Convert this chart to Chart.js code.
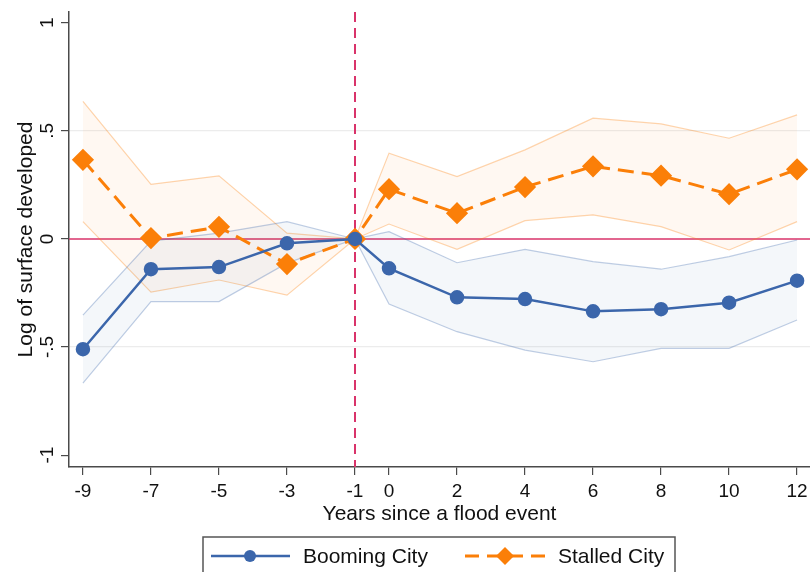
<!DOCTYPE html>
<html>
<head>
<meta charset="utf-8">
<script src="https://cdn.jsdelivr.net/npm/chart.js@4.4.1/dist/chart.umd.min.js"></script>
<style>
  html, body { margin: 0; padding: 0; background: #fff; }
  #wrap { width: 810px; height: 572px; }
</style>
</head>
<body>
<div id="wrap"><canvas id="chart" width="810" height="572"></canvas></div>
<script>
// years relative to the flood
const years = [-9, -7, -5, -3, -1, 0, 2, 4, 6, 8, 10, 12];
const xTicks = [-9, -7, -5, -3, -1, 0, 2, 4, 6, 8, 10, 12];
const yTicks = [-1, -0.5, 0, 0.5, 1];
const yTickLabels = ['-1', '-.5', '0', '.5', '1'];

const booming = [-0.51, -0.14, -0.13, -0.02, 0, -0.136, -0.27, -0.278, -0.335, -0.325, -0.295, -0.193];
const boomingHi = [-0.352, -0.01, 0.027, 0.08, 0, 0.034, -0.11, -0.048, -0.105, -0.14, -0.082, -0.005];
const boomingLo = [-0.667, -0.29, -0.29, -0.112, 0, -0.301, -0.429, -0.514, -0.568, -0.506, -0.506, -0.375];

const stalled = [0.366, 0.004, 0.056, -0.116, 0, 0.23, 0.119, 0.24, 0.336, 0.293, 0.207, 0.322];
const stalledHi = [0.636, 0.253, 0.292, 0.027, 0, 0.397, 0.289, 0.412, 0.559, 0.532, 0.466, 0.574];
const stalledLo = [0.08, -0.246, -0.19, -0.26, 0, 0.069, -0.048, 0.085, 0.111, 0.057, -0.051, 0.08];

const BLUE = '#3b66ab';
const ORANGE = '#fb7f08';
const RED = '#d9336a';
const AXIS = '#4a4a4a';
const FONT = "'Liberation Sans', Arial, sans-serif";

const pts = arr => arr.map((v, i) => ({ x: years[i], y: v }));

// reference lines at y=0 and x=-1
const refLines = {
  id: 'refLines',
  beforeDatasetsDraw(chart) {
    const { ctx, chartArea, scales } = chart;
    ctx.save();
    ctx.strokeStyle = RED;
    ctx.lineWidth = 1.6;
    const y0 = scales.y.getPixelForValue(0);
    ctx.beginPath();
    ctx.moveTo(chartArea.left, y0);
    ctx.lineTo(chartArea.right, y0);
    ctx.stroke();
    const x1 = scales.x.getPixelForValue(-1);
    ctx.lineWidth = 2;
    ctx.setLineDash([10, 6]);
    ctx.beginPath();
    ctx.moveTo(x1, chartArea.top);
    ctx.lineTo(x1, chartArea.bottom);
    ctx.stroke();
    ctx.restore();
  }
};

// rotated y tick labels and boxed legend, Stata style
const extras = {
  id: 'extras',
  afterDraw(chart) {
    const { ctx, scales } = chart;
    ctx.save();
    ctx.fillStyle = '#111';
    ctx.font = '19px ' + FONT;
    ctx.textAlign = 'center';
    ctx.textBaseline = 'middle';
    yTicks.forEach((v, i) => {
      const y = scales.y.getPixelForValue(v);
      ctx.save();
      ctx.translate(48, y);
      ctx.rotate(-Math.PI / 2);
      ctx.fillText(yTickLabels[i], 0, 0);
      ctx.restore();
    });

    // legend
    ctx.strokeStyle = '#555';
    ctx.lineWidth = 1.5;
    ctx.strokeRect(203, 537, 472, 50);
    const ly = 556;
    const b = chart.data.datasets[0];
    const s = chart.data.datasets[1];
    ctx.lineWidth = 2.5;
    ctx.strokeStyle = b.borderColor;
    ctx.beginPath(); ctx.moveTo(211, ly); ctx.lineTo(290, ly); ctx.stroke();
    ctx.fillStyle = b.borderColor;
    ctx.beginPath(); ctx.arc(250, ly, 6, 0, Math.PI * 2); ctx.fill();
    ctx.strokeStyle = s.borderColor;
    ctx.lineWidth = 3;
    ctx.setLineDash([14, 8]);
    ctx.beginPath(); ctx.moveTo(465, ly); ctx.lineTo(546, ly); ctx.stroke();
    ctx.setLineDash([]);
    ctx.fillStyle = s.borderColor;
    ctx.beginPath();
    ctx.moveTo(505, ly - 9); ctx.lineTo(514, ly); ctx.lineTo(505, ly + 9); ctx.lineTo(496, ly);
    ctx.closePath(); ctx.fill();
    ctx.fillStyle = '#111';
    ctx.font = '21px ' + FONT;
    ctx.textAlign = 'left';
    ctx.fillText(b.label, 303, ly + 1);
    ctx.fillText(s.label, 558, ly + 1);
    ctx.restore();
  }
};

new Chart(document.getElementById('chart'), {
  type: 'line',
  data: {
    datasets: [
      {
        label: 'Booming City', data: pts(booming), borderColor: BLUE, backgroundColor: BLUE,
        borderWidth: 2.5, pointRadius: 6, pointHoverRadius: 6, pointStyle: 'circle', fill: false, order: 0
      },
      {
        label: 'Stalled City', data: pts(stalled), borderColor: ORANGE, backgroundColor: ORANGE,
        borderWidth: 3, borderDash: [16, 8], pointRadius: 9, pointHoverRadius: 9, pointStyle: 'rectRot',
        fill: false, order: 1
      },
      {
        label: 'bhi', data: pts(boomingHi), borderColor: 'rgba(59,102,171,0.32)', borderWidth: 1.2,
        pointRadius: 0, fill: false, order: 10
      },
      {
        label: 'blo', data: pts(boomingLo), borderColor: 'rgba(59,102,171,0.32)', borderWidth: 1.2,
        pointRadius: 0, fill: '-1', backgroundColor: 'rgba(59,102,171,0.055)', order: 11
      },
      {
        label: 'shi', data: pts(stalledHi), borderColor: 'rgba(251,127,8,0.33)', borderWidth: 1.2,
        pointRadius: 0, fill: false, order: 12
      },
      {
        label: 'slo', data: pts(stalledLo), borderColor: 'rgba(251,127,8,0.33)', borderWidth: 1.2,
        pointRadius: 0, fill: '-1', backgroundColor: 'rgba(251,127,8,0.05)', order: 13
      }
    ]
  },
  options: {
    responsive: false,
    animation: false,
    layout: { autoPadding: false, padding: { top: 12, bottom: 40, left: 0, right: 0 } },
    plugins: { legend: { display: false }, tooltip: { enabled: false } },
    elements: { line: { tension: 0 } },
    scales: {
      x: {
        type: 'linear', min: -9.41, max: 12.38,
        afterBuildTicks: s => { s.ticks = xTicks.map(v => ({ value: v })); },
        afterFit: s => { s.height = 65; s.paddingLeft = 0; s.paddingRight = 0; },
        ticks: { color: '#111', font: { family: FONT, size: 19 }, padding: 5, maxRotation: 0, autoSkip: false },
        grid: { drawOnChartArea: false, tickLength: 8, color: AXIS, lineWidth: 1.2 },
        border: { color: AXIS, width: 1.5 },
        title: { display: true, text: 'Years since a flood event', color: '#111',
                 font: { family: FONT, size: 21 }, padding: { top: 0, bottom: 5 } }
      },
      y: {
        min: -1.055, max: 1.05,
        afterBuildTicks: s => { s.ticks = yTicks.map(v => ({ value: v })); },
        afterFit: s => { s.width = 69; s.paddingTop = 0; s.paddingBottom = 0; },
        ticks: { color: 'rgba(0,0,0,0)', font: { family: FONT, size: 18 } },
        grid: {
          tickLength: 8, tickColor: AXIS, lineWidth: 1.2,
          color: c => (Math.abs(c.tick.value) === 0.5 ? '#ececec' : 'rgba(0,0,0,0)')
        },
        border: { color: AXIS, width: 1.5 },
        title: { display: true, text: 'Log of surface developed', color: '#111',
                 font: { family: FONT, size: 21 }, padding: { top: 14, bottom: 0 } }
      }
    }
  },
  plugins: [refLines, extras]
});
</script>
</body>
</html>
